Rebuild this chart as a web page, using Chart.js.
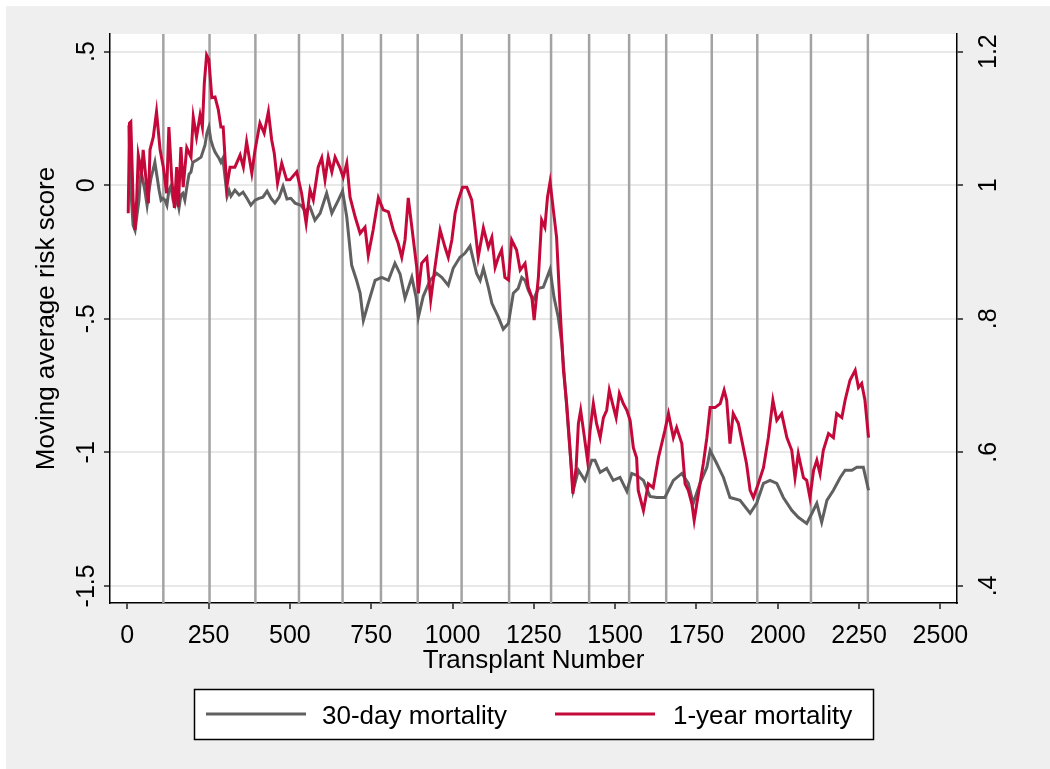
<!DOCTYPE html>
<html>
<head>
<meta charset="utf-8">
<script src="https://cdn.jsdelivr.net/npm/chart.js@4.4.1/dist/chart.umd.min.js"></script>
<style>
  html, body { margin: 0; padding: 0; background: #fff; }
  #wrap { width: 1050px; height: 769px; }
</style>
</head>
<body>
<div id="wrap"><canvas id="graph"></canvas></div>
<script>
// moving average risk score by transplant number
var mort30N = [5,11,18,24,30,36,42,48,54,61,67,73,79,85,91,98,104,110,116,122,
  128,134,141,147,153,159,165,171,177,184,190,196,202,214,227,239,245,251,257,264,
  270,276,282,288,294,300,307,313,319,331,344,356,368,380,393,405,417,430,442,454,
  467,479,491,503,516,534,547,562,577,593,613,629,649,662,675,690,705,716,726,741,
  762,782,803,823,839,854,875,888,895,910,931,951,967,987,1002,1023,1038,1054,1074,1085,
  1095,1110,1121,1141,1156,1172,1187,1202,1213,1223,1233,1248,1264,1279,1300,1312,1325,1336,1346,1361,
  1371,1387,1407,1428,1438,1454,1474,1494,1515,1536,1551,1566,1587,1607,1628,1653,1679,1705,1725,1740,
  1761,1782,1792,1812,1833,1853,1884,1915,1935,1956,1976,1997,2017,2043,2063,2089,2105,2120,2135,2151,
  2171,2192,2207,2228,2243,2263,2279];
var mort30Risk = [0.225,-0.019,-0.150,-0.169,-0.112,-0.056,0.056,0.019,-0.019,-0.075,
  -0.019,0.026,0.056,0.086,0.037,-0.019,-0.056,-0.049,-0.056,-0.075,
  -0.019,-0.004,-0.056,-0.075,-0.049,-0.086,-0.037,-0.030,-0.056,0.000,
  0.041,0.049,0.086,0.094,0.105,0.150,0.195,0.217,0.169,0.142,
  0.124,0.112,0.101,0.086,0.101,0.037,-0.041,-0.019,-0.041,-0.019,
  -0.037,-0.026,-0.049,-0.075,-0.056,-0.049,-0.045,-0.022,-0.049,-0.067,
  -0.045,-0.004,-0.052,-0.049,-0.067,-0.075,-0.097,-0.082,-0.131,-0.105,
  -0.030,-0.105,-0.056,-0.022,-0.120,-0.300,-0.356,-0.404,-0.506,-0.442,
  -0.356,-0.345,-0.356,-0.292,-0.333,-0.423,-0.345,-0.419,-0.494,-0.416,
  -0.356,-0.330,-0.345,-0.375,-0.311,-0.270,-0.255,-0.228,-0.330,-0.356,
  -0.311,-0.382,-0.442,-0.494,-0.539,-0.517,-0.404,-0.386,-0.345,-0.356,
  -0.393,-0.431,-0.386,-0.382,-0.315,-0.419,-0.494,-0.592,-0.749,-0.993,
  -1.142,-1.067,-1.105,-1.030,-1.030,-1.075,-1.060,-1.105,-1.094,-1.146,
  -1.079,-1.086,-1.105,-1.165,-1.169,-1.169,-1.105,-1.079,-1.116,-1.191,
  -1.116,-1.056,-0.993,-1.041,-1.094,-1.169,-1.180,-1.228,-1.191,-1.116,
  -1.105,-1.116,-1.169,-1.217,-1.243,-1.266,-1.228,-1.191,-1.262,-1.180,
  -1.142,-1.094,-1.067,-1.067,-1.056,-1.056,-1.142];

var mort1yN = [3,7,11,18,24,29,34,44,49,60,65,70,80,90,101,111,121,128,137,145,
  152,157,165,172,183,196,203,213,224,231,237,244,251,260,270,280,288,295,306,316,
  331,347,357,367,383,393,408,421,434,444,452,462,475,490,500,521,536,550,562,572,
  587,598,608,618,629,639,654,664,675,685,701,716,731,741,756,772,787,803,818,833,
  844,854,864,875,890,895,905,921,933,946,962,977,987,998,1008,1018,1031,1044,1059,1069,
  1079,1095,1110,1121,1131,1141,1151,1161,1172,1182,1197,1208,1223,1233,1244,1251,1264,1274,1284,1292,
  1300,1310,1320,1331,1341,1351,1361,1370,1380,1387,1394,1404,1415,1423,1433,1443,1454,1464,1474,1482,
  1492,1503,1513,1525,1536,1546,1556,1566,1571,1587,1602,1617,1633,1653,1664,1679,1689,1705,1715,1725,
  1736,1743,1751,1761,1771,1782,1792,1807,1823,1835,1843,1853,1863,1879,1894,1904,1915,1925,1940,1956,
  1971,1985,1997,2012,2028,2043,2053,2063,2079,2089,2099,2110,2120,2130,2140,2156,2171,2181,2197,2207,
  2222,2238,2248,2258,2268,2279];
var mort1yRisk = [0.958,1.093,1.095,0.978,0.933,0.978,1.045,1.018,1.053,0.997,
  0.973,1.053,1.072,1.110,1.053,1.027,0.988,1.087,1.008,0.966,
  1.027,0.967,1.057,0.997,1.056,1.042,1.102,1.072,1.105,1.087,
  1.153,1.195,1.188,1.131,1.132,1.113,1.087,1.087,0.997,1.027,
  1.027,1.045,1.027,1.065,1.018,1.053,1.093,1.078,1.110,1.068,
  1.048,1.003,1.033,1.008,1.008,1.020,0.988,0.943,0.993,0.978,
  1.027,1.041,1.008,1.042,1.020,1.042,1.026,1.012,1.033,0.982,
  0.952,0.928,0.937,0.895,0.933,0.981,0.963,0.960,0.933,0.913,
  0.892,0.918,0.981,0.937,0.877,0.838,0.883,0.892,0.828,0.877,
  0.933,0.907,0.892,0.918,0.958,0.978,0.997,0.997,0.978,0.937,
  0.892,0.936,0.907,0.922,0.877,0.892,0.903,0.862,0.858,0.918,
  0.903,0.873,0.883,0.847,0.832,0.798,0.862,0.948,0.937,0.982,
  1.005,0.963,0.922,0.813,0.723,0.673,0.607,0.538,0.577,0.643,
  0.663,0.628,0.588,0.633,0.673,0.643,0.622,0.652,0.663,0.693,
  0.673,0.652,0.688,0.673,0.663,0.648,0.607,0.592,0.543,0.513,
  0.553,0.547,0.592,0.633,0.658,0.622,0.637,0.613,0.553,0.543,
  0.523,0.498,0.523,0.553,0.583,0.622,0.667,0.667,0.673,0.693,
  0.678,0.613,0.658,0.643,0.607,0.583,0.543,0.532,0.553,0.577,
  0.622,0.678,0.648,0.658,0.622,0.603,0.562,0.598,0.562,0.558,
  0.532,0.573,0.588,0.568,0.603,0.628,0.622,0.658,0.652,0.678,
  0.708,0.723,0.697,0.703,0.678,0.622];

// transplant numbers where a new year starts
var yearBreaks = [111,253,394,528,662,780,893,1028,1174,1303,1420,1543,1657,1797,1937,2102,2277];

var xTicks = [0,250,500,750,1000,1250,1500,1750,2000,2250,2500];
var leftTicks = [-1.5,-1,-0.5,0,0.5];
var rightTicks = [0.4,0.6,0.8,1,1.2];

var FONT = '"Liberation Sans", Arial, Helvetica, sans-serif';

// stata style numbers: .5 and -.5
function fmt(v) {
  return String(v).replace('0.', '.');
}

function pairs(xs, ys) {
  return xs.map(function (x, i) { return { x: x, y: ys[i] }; });
}

var backdrop = {
  id: 'backdrop',
  beforeDraw: function (chart) {
    var ctx = chart.ctx, a = chart.chartArea;
    ctx.save();
    ctx.fillStyle = '#ffffff';
    ctx.fillRect(0, 0, chart.width, chart.height);
    ctx.fillStyle = '#efefef';
    ctx.fillRect(6, 6, chart.width - 6, chart.height - 6);
    ctx.fillStyle = '#ffffff';
    ctx.fillRect(a.left, a.top, a.right - a.left, a.bottom - a.top);
    ctx.restore();
  }
};

var yearLines = {
  id: 'yearLines',
  beforeDatasetsDraw: function (chart) {
    var ctx = chart.ctx, a = chart.chartArea, sx = chart.scales.x;
    ctx.save();
    ctx.strokeStyle = '#a3a3a3';
    ctx.lineWidth = 2.5;
    yearBreaks.forEach(function (n) {
      var px = sx.getPixelForValue(n);
      ctx.beginPath();
      ctx.moveTo(px, a.top);
      ctx.lineTo(px, a.bottom);
      ctx.stroke();
    });
    ctx.restore();
  }
};

function rotText(ctx, text, x, y) {
  ctx.save();
  ctx.translate(x, y);
  ctx.rotate(-Math.PI / 2);
  ctx.fillText(text, 0, 0);
  ctx.restore();
}

// axis labels, titles and legend
var labels = {
  id: 'labels',
  afterDraw: function (chart) {
    var ctx = chart.ctx, a = chart.chartArea, s = chart.scales;
    ctx.save();
    ctx.fillStyle = '#000';
    ctx.textAlign = 'center';
    ctx.textBaseline = 'alphabetic';

    ctx.font = '25px ' + FONT;
    s.x.ticks.forEach(function (t) {
      ctx.fillText(fmt(t.value), s.x.getPixelForValue(t.value), a.bottom + 40);
    });
    s.y.ticks.forEach(function (t) {
      rotText(ctx, fmt(t.value), a.left - 16, s.y.getPixelForValue(t.value));
    });
    s.y2.ticks.forEach(function (t) {
      rotText(ctx, fmt(t.value), a.right + 39, s.y2.getPixelForValue(t.value));
    });

    ctx.font = '26px ' + FONT;
    ctx.fillText('Transplant Number', (a.left + a.right) / 2, a.bottom + 65);
    rotText(ctx, 'Moving average risk score', 54, (a.top + a.bottom) / 2);

    // legend box
    ctx.fillStyle = '#ffffff';
    ctx.fillRect(194, 689, 679, 50);
    ctx.strokeStyle = '#000';
    ctx.lineWidth = 1.5;
    ctx.strokeRect(194.5, 689.5, 679, 50);
    var keys = [{ x: 206, tx: 322 }, { x: 555, tx: 673 }];
    chart.data.datasets.forEach(function (ds, i) {
      ctx.strokeStyle = ds.borderColor;
      ctx.lineWidth = 3;
      ctx.beginPath();
      ctx.moveTo(keys[i].x, 714);
      ctx.lineTo(keys[i].x + 100, 714);
      ctx.stroke();
      ctx.fillStyle = '#000';
      ctx.textAlign = 'left';
      ctx.fillText(ds.label, keys[i].tx, 724);
    });
    ctx.restore();
  }
};

var axisGrid = function (onChart) {
  return {
    drawOnChartArea: onChart,
    drawTicks: true,
    tickLength: 6,
    tickColor: '#000',
    tickWidth: 1.3,
    color: '#e8e8e8',
    lineWidth: 2
  };
};

var ctx = document.getElementById('graph').getContext('2d');
new Chart(ctx, {
  type: 'line',
  data: {
    datasets: [{
      label: '30-day mortality',
      data: pairs(mort30N, mort30Risk),
      yAxisID: 'y',
      borderColor: '#606060',
      borderWidth: 3,
      pointRadius: 0,
      order: 2
    }, {
      label: '1-year mortality',
      data: pairs(mort1yN, mort1yRisk),
      yAxisID: 'y2',
      borderColor: '#c4093a',
      borderWidth: 3,
      pointRadius: 0,
      order: 1
    }]
  },
  options: {
    responsive: true,
    maintainAspectRatio: false,
    animation: false,
    events: [],
    layout: { padding: { top: 34, left: 0, right: 0, bottom: 0 } },
    plugins: { legend: { display: false }, tooltip: { enabled: false } },
    scales: {
      x: {
        type: 'linear',
        min: -53,
        max: 2551,
        afterBuildTicks: function (s) { s.ticks = xTicks.map(function (v) { return { value: v }; }); },
        afterFit: function (s) { s.height = 166; },
        grid: axisGrid(false),
        border: { display: true, color: '#000', width: 1.5 },
        ticks: { display: false }
      },
      y: {
        position: 'left',
        min: -1.564,
        max: 0.566,
        afterBuildTicks: function (s) { s.ticks = leftTicks.map(function (v) { return { value: v }; }); },
        afterFit: function (s) { s.width = 110; },
        grid: axisGrid(true),
        border: { display: true, color: '#000', width: 1.5 },
        ticks: { display: false }
      },
      y2: {
        position: 'right',
        min: 0.3744,
        max: 1.2264,
        afterBuildTicks: function (s) { s.ticks = rightTicks.map(function (v) { return { value: v }; }); },
        afterFit: function (s) { s.width = 93; },
        grid: axisGrid(false),
        border: { display: true, color: '#000', width: 1.5 },
        ticks: { display: false }
      }
    }
  },
  plugins: [backdrop, yearLines, labels]
});
</script>
</body>
</html>
